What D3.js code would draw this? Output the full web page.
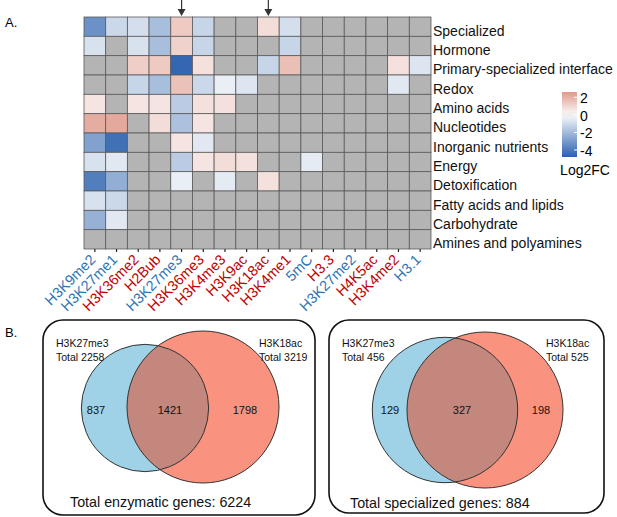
<!DOCTYPE html>
<html>
<head>
<meta charset="utf-8">
<script src="https://cdn.jsdelivr.net/npm/d3@7"></script>
<style>
  body { margin: 0; background: #fff; }
  svg { display: block; font-family: "Liberation Sans", Arial, sans-serif; }
</style>
</head>
<body>
<svg width="617" height="517"></svg>
<script>
// ---- data ----
let marks = ["H3K9me2", "H3K27me1", "H3K36me2", "H2Bub", "H3K27me3", "H3K36me3", "H3K4me3", "H3K9ac",
             "H3K18ac", "H3K4me1", "5mC", "H3.3", "H3K27me2", "H4K5ac", "H3K4me2", "H3.1"];
// repressive marks in blue, active marks in red
let markType = ["rep", "rep", "act", "act", "rep", "act", "act", "act",
                "act", "act", "rep", "act", "rep", "act", "act", "rep"];
let categories = ["Specialized", "Hormone", "Primary-specialized interface", "Redox", "Amino acids",
                  "Nucleotides", "Inorganic nutrients", "Energy", "Detoxification",
                  "Fatty acids and lipids", "Carbohydrate", "Amines and polyamines"];
let _ = null;
// log2FC per category (rows) x mark (cols); null = not significant (gray)
let log2fc = [
  [-3.3, -1.1, -0.9, -1.9,  1.3, -1.2,    _,    _,  0.8, -0.9, _, _, _, _,    _,    _],
  [-0.8,    _, -0.8, -1.9,  1.1, -1.2,    _,    _,    _, -1.2, _, _, _, _,    _,    _],
  [   _,    _,  1.2,  1.3, -4.6,  0.7,    _,    _, -1.2,  1.6, _, _, _, _,  0.7, -0.7],
  [   _,    _, -1.2, -1.9,  1.5, -1.1, -0.4, -0.7,    _,    _, _, _, _, _, -0.6,    _],
  [ 0.6,    _,  0.6,  0.6, -1.5,  0.7,  0.7,    _,    _,    _, _, _, _, _,    _,    _],
  [ 2.1,  2.2,    _,  0.8, -1.8,  0.6,    _,    _,    _,    _, _, _, _, _,    _,    _],
  [-2.8, -4.3,    _,    _,  0.6, -0.6,    _,    _,    _,    _, _, _, _, _,    _,    _],
  [-0.8, -0.6,    _,    _, -1.5,  0.6,  0.8,  0.7,    _,    _, -0.5, _, _, _, _,    _],
  [-3.9, -2.4,    _,    _, -0.4,    _, -0.5,    _,  0.7,    _, _, _, _, _,    _,    _],
  [-0.8, -1.1,    _,    _,    _,    _,    _,    _,    _,    _, _, _, _, _,    _,    _],
  [-2.3, -0.6,    _,    _,    _,    _,    _,    _,    _,    _, _, _, _, _,    _,    _],
  [   _,    _,    _,    _,    _,    _,    _,    _,    _,    _, _, _, _, _,    _,    _]
];
let arrowMarks = ["H3K27me3", "H3K18ac"];
let legendTicks = [2, 0, -2, -4];
let legendDomain = [2.6, -4.8];

// venn panels
let vennSets = ["H3K27me3", "H3K18ac"];
let enzTotals = [2258, 3219];
let enzParts = [837, 1421, 1798];
let enzAll = 6224;
let specTotals = [456, 525];
let specParts = [129, 327, 198];
let specAll = 884;

// ---- setup ----
let svg = d3.select('svg');
let blueTxt = '#2e74b5';
let redTxt = '#c00000';

let x = d3.scaleBand().domain(marks).range([84, 431]);
let y = d3.scaleBand().domain(categories).range([17, 249]);
let color = d3.scaleLinear()
  .domain([-4.8, 0, 2.6])
  .range(['#2a61ae', '#fbfbfb', '#e0998b']);

// panel labels
svg.append('text').attr('x', 5).attr('y', 27).attr('font-size', 13).text('A.');
svg.append('text').attr('x', 5).attr('y', 337).attr('font-size', 13).text('B.');

// ---- heatmap ----
let cells = [];
log2fc.forEach((row, i) => row.forEach((v, j) => cells.push({ cat: categories[i], mark: marks[j], v: v })));

svg.append('g').selectAll('rect')
  .data(cells)
  .enter()
  .append('rect')
  .attr('x', d => x(d.mark))
  .attr('y', d => y(d.cat))
  .attr('width', x.bandwidth())
  .attr('height', y.bandwidth())
  .attr('fill', d => d.v === null ? '#b4b4b4' : color(d.v))
  .attr('stroke', '#5a5a5a')
  .attr('stroke-width', 0.8);

// row labels
svg.append('g').selectAll('text')
  .data(categories)
  .enter()
  .append('text')
  .attr('x', 433)
  .attr('y', d => y(d) + y.bandwidth() / 2 + 4)
  .attr('dominant-baseline', 'central')
  .attr('font-size', 14)
  .attr('fill', '#111')
  .text(d => d);

// column labels (rotated) + small tick dots
let xAxis = svg.append('g')
  .attr('transform', 'translate(0,249)')
  .call(d3.axisBottom(x).tickSize(3).tickSizeOuter(0));
xAxis.select('.domain').remove();
xAxis.selectAll('.tick line').attr('stroke', '#222').attr('stroke-width', 1.2);
xAxis.selectAll('.tick text')
  .attr('font-size', 14.5)
  .attr('font-family', '"Liberation Sans", Arial, sans-serif')
  .attr('fill', (d, i) => markType[i] === 'rep' ? blueTxt : redTxt)
  .attr('text-anchor', 'end')
  .attr('dy', '0.35em')
  .attr('y', 0)
  .attr('transform', 'translate(-2,8) rotate(-45)');

// arrows over highlighted marks
let arrows = svg.append('g').selectAll('g')
  .data(arrowMarks)
  .enter()
  .append('g')
  .attr('transform', d => `translate(${x(d) + x.bandwidth() / 2},0)`);
arrows.append('line').attr('x1', 0).attr('x2', 0).attr('y1', 0).attr('y2', 10)
  .attr('stroke', '#333').attr('stroke-width', 1.2);
arrows.append('path').attr('d', 'M-4,9 L4,9 L0,16 Z').attr('fill', '#333');

// colour legend
let ly = d3.scaleLinear().domain(legendDomain).range([92, 157]);
let grad = svg.append('defs').append('linearGradient')
  .attr('id', 'lg').attr('x1', 0).attr('x2', 0).attr('y1', 0).attr('y2', 1);
d3.range(0, 1.0001, 0.1).forEach(t => {
  let v = legendDomain[0] + t * (legendDomain[1] - legendDomain[0]);
  grad.append('stop').attr('offset', t).attr('stop-color', color(v));
});
svg.append('rect').attr('x', 562).attr('y', ly(legendDomain[0]))
  .attr('width', 15).attr('height', ly(legendDomain[1]) - ly(legendDomain[0]))
  .attr('fill', 'url(#lg)');
let lg = svg.append('g').attr('transform', 'translate(577,0)');
lg.selectAll('line').data(legendTicks).enter().append('line')
  .attr('x1', -3).attr('x2', 0).attr('y1', d => ly(d)).attr('y2', d => ly(d))
  .attr('stroke', '#fff').attr('stroke-width', 1);
lg.selectAll('text').data(legendTicks).enter().append('text')
  .attr('x', 3).attr('y', d => ly(d) + 1)
  .attr('dominant-baseline', 'central')
  .attr('font-size', 14)
  .text(d => d);
svg.append('text').attr('x', 585).attr('y', 170).attr('text-anchor', 'middle')
  .attr('dominant-baseline', 'central').attr('font-size', 14).text('Log2FC');

// ---- venn diagrams ----
let drawVenn = (opt) => {
  let g = svg.append('g');
  g.append('rect')
    .attr('x', opt.box[0]).attr('y', opt.box[1]).attr('width', opt.box[2]).attr('height', opt.box[3])
    .attr('rx', 20).attr('fill', 'none').attr('stroke', '#111').attr('stroke-width', 1.6);

  let r = d3.scaleSqrt().domain([0, d3.max(opt.totals)]).range([0, opt.rMax]);
  let circ = opt.totals.map((t, i) => ({ cx: opt.centers[i][0], cy: opt.centers[i][1], r: r(t) }));

  g.append('clipPath').attr('id', opt.id)
    .append('circle').attr('cx', circ[0].cx).attr('cy', circ[0].cy).attr('r', circ[0].r);

  g.append('circle').attr('cx', circ[0].cx).attr('cy', circ[0].cy).attr('r', circ[0].r).attr('fill', '#9fd2e6');
  g.append('circle').attr('cx', circ[1].cx).attr('cy', circ[1].cy).attr('r', circ[1].r).attr('fill', '#f9937f');
  g.append('circle').attr('cx', circ[1].cx).attr('cy', circ[1].cy).attr('r', circ[1].r)
    .attr('fill', '#c3877d').attr('clip-path', `url(#${opt.id})`);
  circ.forEach(c => {
    g.append('circle').attr('cx', c.cx).attr('cy', c.cy).attr('r', c.r)
      .attr('fill', 'none').attr('stroke', '#333').attr('stroke-width', 1);
  });

  // set names and totals
  opt.labelPos.forEach((p, i) => {
    let t = g.append('text').attr('x', p[0]).attr('y', p[1]).attr('font-size', 10.5).attr('fill', '#111');
    t.append('tspan').attr('x', p[0]).text(vennSets[i]);
    t.append('tspan').attr('x', p[0]).attr('dy', 14).text('Total ' + opt.totals[i]);
  });

  // region counts
  g.selectAll('.cnt').data(opt.parts).enter().append('text')
    .attr('x', (d, i) => opt.partX[i]).attr('y', opt.partY)
    .attr('text-anchor', 'middle').attr('dominant-baseline', 'central')
    .attr('font-size', 11).attr('fill', '#111')
    .text(d => d);

  g.append('text').attr('x', opt.footer[0]).attr('y', opt.footer[1])
    .attr('font-size', 14.3).attr('fill', '#111')
    .text(opt.title + opt.all);
};

drawVenn({
  id: 'clipEnz', box: [43, 320, 272, 195], totals: enzTotals, parts: enzParts, all: enzAll,
  rMax: 76, centers: [[145, 408], [203, 407]],
  labelPos: [[56, 347], [259, 347]], partX: [96, 170, 245], partY: 410,
  footer: [70, 507], title: 'Total enzymatic genes: '
});
drawVenn({
  id: 'clipSpec', box: [329, 320, 275, 193], totals: specTotals, parts: specParts, all: specAll,
  rMax: 78, centers: [[445, 410], [485, 410]],
  labelPos: [[342, 347], [546, 347]], partX: [390, 462, 541], partY: 410,
  footer: [350, 508], title: 'Total specialized genes: '
});
</script>
</body>
</html>
